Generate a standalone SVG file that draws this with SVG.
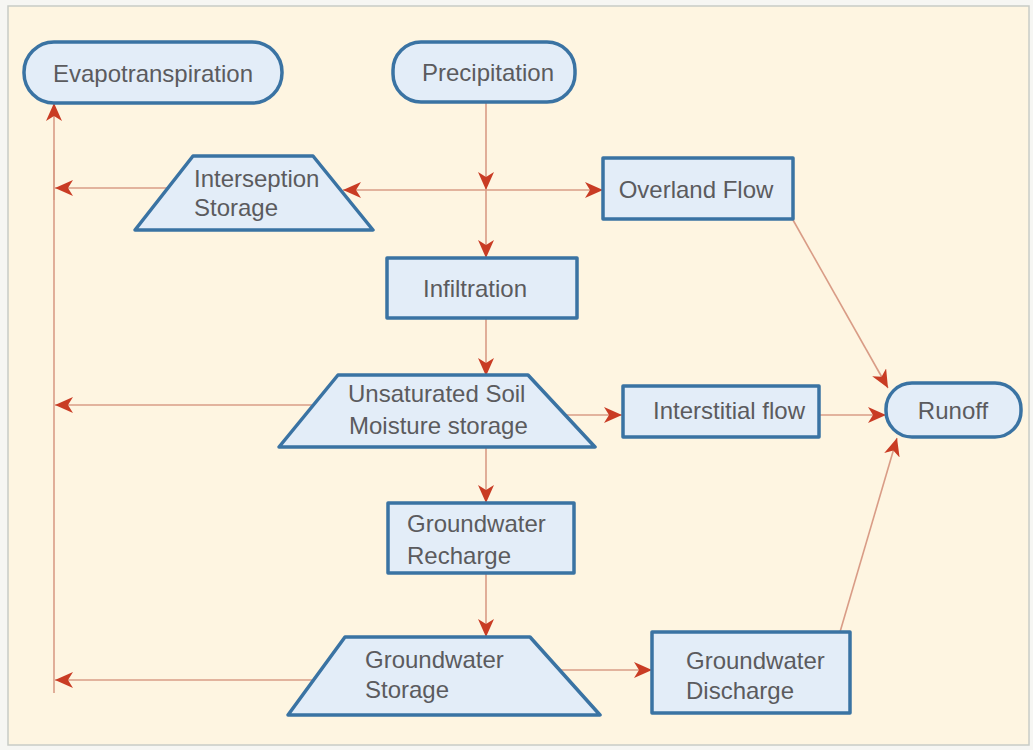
<svg xmlns="http://www.w3.org/2000/svg" width="1033" height="750" viewBox="0 0 1033 750">
<defs>
<marker id="ah" markerUnits="userSpaceOnUse" markerWidth="18" markerHeight="16" refX="18" refY="8" orient="auto">
<path d="M0,0 L18,8 L0,16 L5,8 z" fill="#C93C24"/>
</marker>
<style>
.n{fill:#E3EDF8;stroke:#3A73A3;stroke-width:3.5;stroke-linejoin:round}
.t{font-family:"Liberation Sans",Arial,sans-serif;font-size:24px;fill:#5B5B5E}
.c{fill:none;stroke:#D99C86;stroke-width:1.6;marker-end:url(#ah)}
.v{fill:none;stroke:#D99C86;stroke-width:1.6}
</style>
</defs>
<rect x="0" y="0" width="1033" height="750" fill="#F6F6F3"/>
<rect x="8" y="6" width="1021" height="739" fill="#FEF5E1" stroke="#C8CBC6" stroke-width="1.5"/>

<g id="connectors">
<path class="c" d="M486,102 L486,190"/>
<path class="c" d="M486,190 L486,258"/>
<path class="c" d="M486,190 L343,190"/>
<path class="c" d="M486,190 L603,190"/>
<path class="c" d="M168,188 L55,188"/>
<path class="v" d="M54,693 L54,150"/>
<path class="c" d="M54,200 L54,103"/>
<path class="c" d="M486,318 L486,376"/>
<path class="c" d="M313,405 L55,405"/>
<path class="c" d="M565,415 L622,415"/>
<path class="c" d="M486,447 L486,503"/>
<path class="c" d="M486,573 L486,637"/>
<path class="c" d="M313,680 L55,680"/>
<path class="c" d="M560,670 L652,670"/>
<path class="c" d="M840,632 L897,438"/>
<path class="c" d="M793,220 L888,388"/>
<path class="c" d="M819,415 L886,415"/>
</g>

<g id="evapotranspiration">
<rect class="n" x="24" y="42" width="258" height="61" rx="30"/>
<text class="t" x="153" y="82" text-anchor="middle">Evapotranspiration</text>
</g>
<g id="precipitation">
<rect class="n" x="393" y="42" width="182" height="60" rx="28"/>
<text class="t" x="488" y="81" text-anchor="middle">Precipitation</text>
</g>
<g id="interseption-storage">
<polygon class="n" points="193,156 313,156 373,230 135,230"/>
<text class="t" x="194" y="187">Interseption</text>
<text class="t" x="194" y="216">Storage</text>
</g>
<g id="overland-flow">
<rect class="n" x="603" y="158" width="190" height="61"/>
<text class="t" x="696" y="198" text-anchor="middle">Overland Flow</text>
</g>
<g id="infiltration">
<rect class="n" x="387" y="258" width="190" height="60"/>
<text class="t" x="475" y="297" text-anchor="middle">Infiltration</text>
</g>
<g id="unsaturated-soil-moisture-storage">
<polygon class="n" points="338,375 528,375 595,447 279,447"/>
<text class="t" x="348" y="402">Unsaturated Soil</text>
<text class="t" x="349" y="434">Moisture storage</text>
</g>
<g id="interstitial-flow">
<rect class="n" x="623" y="386" width="196" height="51"/>
<text class="t" x="729" y="419" text-anchor="middle">Interstitial flow</text>
</g>
<g id="runoff">
<rect class="n" x="886" y="383" width="135" height="54" rx="26"/>
<text class="t" x="953" y="419" text-anchor="middle">Runoff</text>
</g>
<g id="groundwater-recharge">
<rect class="n" x="388" y="503" width="186" height="70"/>
<text class="t" x="407" y="532">Groundwater</text>
<text class="t" x="407" y="564">Recharge</text>
</g>
<g id="groundwater-storage">
<polygon class="n" points="345,637 530,637 600,715 288,715"/>
<text class="t" x="365" y="668">Groundwater</text>
<text class="t" x="365" y="698">Storage</text>
</g>
<g id="groundwater-discharge">
<rect class="n" x="652" y="632" width="198" height="81"/>
<text class="t" x="686" y="669">Groundwater</text>
<text class="t" x="686" y="699">Discharge</text>
</g>
</svg>
